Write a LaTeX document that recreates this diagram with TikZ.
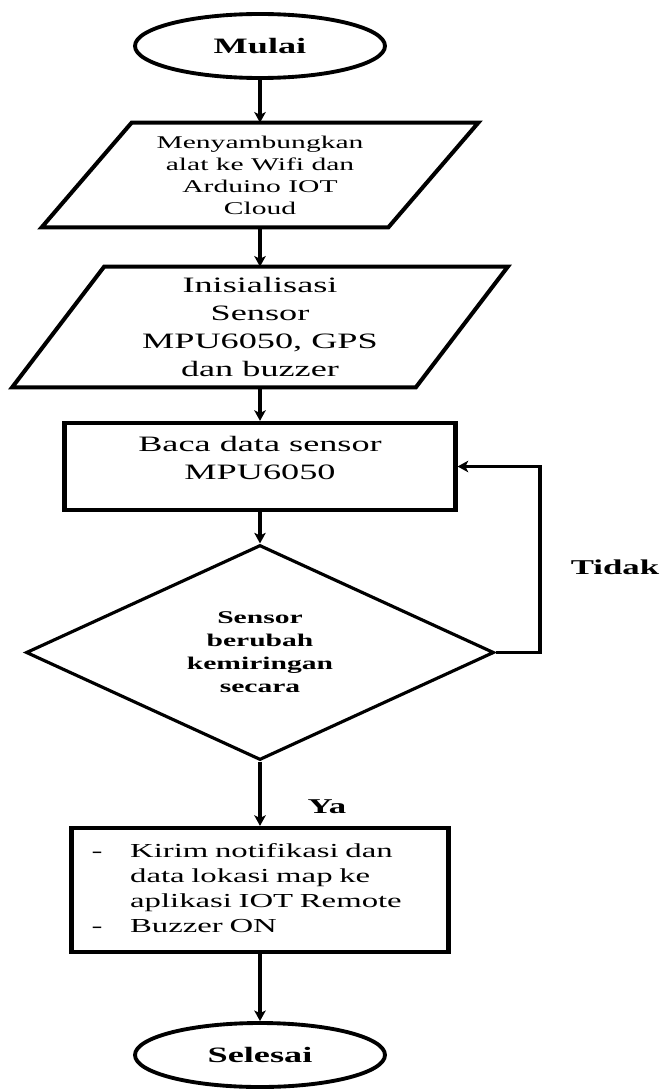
\documentclass[tikz,border=0pt]{standalone}
\usepackage{fontspec}
\setmainfont{Liberation Serif}[FakeStretch=1.65]
\usetikzlibrary{shapes.geometric,arrows.meta}
\newdimen\unitpx
\unitpx=0.02cm
\newcommand{\DataFrame}[2]{
\draw[frame] ([xshift=#2]#1.north west) -- ([xshift=#2]#1.north east)
  -- ([xshift=-#2]#1.south east) -- ([xshift=-#2]#1.south west) -- cycle;
}

\begin{document}
\begin{tikzpicture}[x=\unitpx, y=-\unitpx,
>={Stealth[length=6pt, width=6.5pt, inset=1.5pt]},
frame/.style={line width=2.3pt, line join=miter},
terminal/.style={ellipse, draw, line width=2.2pt, inner sep=0, minimum width=250\unitpx, minimum height=64\unitpx, font=\fontsize{12.5}{15}\selectfont\bfseries},
iobox/.style={inner sep=0, align=center},
process/.style={draw, line width=2.4pt, align=center, inner sep=0},
decision/.style={diamond, draw, line width=1.8pt, aspect=2.2, align=center, inner sep=0, minimum width=468\unitpx, minimum height=215\unitpx, font=\fontsize{10.2}{13.1}\selectfont\bfseries},
flow/.style={->, line width=2.5pt},
answer/.style={font=\fontsize{12}{14}\selectfont\bfseries},
]
\useasboundingbox (0,0) rectangle (664,1091);

%%%%%%%%%%%%%%%%%%%%%%%% NODES %%%%%%%%%%%%%%%%%%%%%%%%
\node[terminal] (start) at (260,46) {Mulai};

\node[iobox, minimum width=346\unitpx, minimum height=104\unitpx, font=\fontsize{10.2}{12.5}\selectfont] (conn) at (260,175)
  {Menyambungkan\\alat ke Wifi dan\\Arduino IOT\\Cloud};
\DataFrame{conn}{45\unitpx}

\node[iobox, minimum width=403\unitpx, minimum height=120\unitpx, font=\fontsize{12.5}{15.9}\selectfont] (init) at (260,327)
  {Inisialisasi\\Sensor\\MPU6050, GPS\\dan buzzer};
\DataFrame{init}{46\unitpx}

\node[process, minimum width=391\unitpx, minimum height=87\unitpx, font=\fontsize{12.5}{15.9}\selectfont] (read) at (260,466.5)
  {Baca data sensor\\MPU6050\\[-1ex]};

\node[decision] (decide) at (260,652.5) {Sensor\\berubah\\kemiringan\\secara};

\node[process, minimum width=377\unitpx, minimum height=124\unitpx, inner xsep=20\unitpx, text width=337\unitpx, align=left,
  font=\fontsize{11.3}{14.2}\selectfont] (act) at (260,890)
  {\begin{tabular}{@{}p{22pt}@{}l@{}}
  - & Kirim notifikasi dan\\
    & data lokasi map ke\\
    & aplikasi IOT Remote\\
  - & Buzzer ON
  \end{tabular}};

\node[terminal] (end) at (260,1055) {Selesai};

%%%%%%%%% LABELS %%%%%%%%%
\node[answer] (no) at (615,567) {Tidak};
\node[answer] (yes) at (327,807) {Ya};

%%%%%%%%%%%%%%%%%%%%%%%% ARROWS %%%%%%%%%%%%%%%%%%%%%%%%
\draw[flow] (start.south) -- (conn.north);
\draw[flow] (conn.south) -- (init.north);
\draw[flow] (init.south) -- (read.north);
\draw[flow] (read.south) -- (decide.north);
\draw[flow] (decide.south) -- (act.north);
\draw[flow] (act.south) -- (end.north);
\coordinate (loop) at ([xshift=44\unitpx]decide.east);
\draw[flow, line width=2.2pt] (decide.east) -- (loop) |- (read.east);
\end{tikzpicture}
\end{document}
